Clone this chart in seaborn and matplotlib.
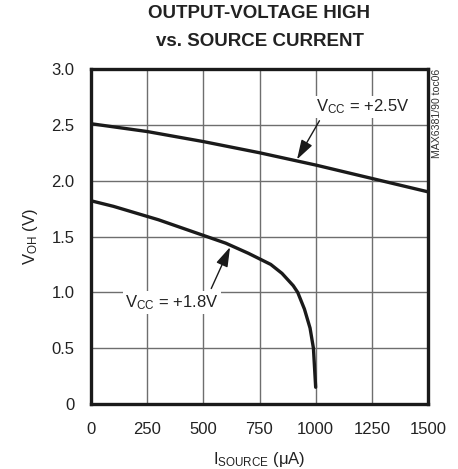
import matplotlib
matplotlib.use("Agg")
import matplotlib.pyplot as plt
import seaborn as sns
import pandas as pd

# Data
x_25 = [0, 250, 500, 750, 1000, 1250, 1500]
y_25 = [2.51, 2.44, 2.35, 2.25, 2.14, 2.02, 1.90]

x_18 = [0, 100, 200, 300, 400, 500, 600, 700, 800, 850, 900, 920, 950, 975, 990, 1000]
y_18 = [1.82, 1.77, 1.71, 1.65, 1.58, 1.51, 1.44, 1.35, 1.25, 1.17, 1.06, 1.00, 0.85, 0.68, 0.50, 0.15]

x_ticks = [0, 250, 500, 750, 1000, 1250, 1500]
y_ticks = [0, 0.5, 1.0, 1.5, 2.0, 2.5, 3.0]
y_tick_labels = ["0", "0.5", "1.0", "1.5", "2.0", "2.5", "3.0"]

sns.set_theme(style="white")
plt.rcParams['font.family'] = ['Liberation Sans', 'DejaVu Sans']
plt.rcParams['mathtext.default'] = 'regular'

df = pd.concat([
    pd.DataFrame({"I": x_25, "V": y_25, "s": "2.5"}),
    pd.DataFrame({"I": x_18, "V": y_18, "s": "1.8"}),
])

fig = plt.figure(figsize=(4.58, 4.69), dpi=100)
ax = fig.add_axes([91/458, 1-404/469, (428-91)/458, (404-69)/469])

sns.lineplot(data=df, x="I", y="V", units="s", estimator=None, sort=False,
             color="#1a1a1a", linewidth=2.4, ax=ax, legend=False)

ax.set_xlim(0, 1500)
ax.set_ylim(0, 3.0)
ax.set_xticks(x_ticks)
ax.set_xticklabels([str(v) for v in x_ticks])
ax.set_yticks(y_ticks)
ax.set_yticklabels(y_tick_labels)
ax.grid(True, color="#6e6e6e", linewidth=1.0)
ax.set_axisbelow(True)
for sp in ax.spines.values():
    sp.set_color("#1a1a1a")
    sp.set_linewidth(2.4)
ax.tick_params(axis="x", length=0, pad=13, labelsize=12, colors="#222222")
ax.tick_params(axis="y", length=0, pad=12, labelsize=12, colors="#222222")

ax.set_xlabel(r"I$_{SOURCE}$ ($\mu$A)", fontsize=12, color="#222222", labelpad=9)
ax.set_ylabel(r"V$_{OH}$ (V)", fontsize=12, color="#222222", labelpad=8)

fig.text(259.5/458, 1-14/469, "OUTPUT-VOLTAGE HIGH",
         ha="center", va="center", fontsize=13.5, fontweight="bold",
         color="#222222")
fig.text(259.5/458, 1-41/469, "vs. SOURCE CURRENT",
         ha="center", va="center", fontsize=13.5, fontweight="bold",
         color="#222222")

fig.text(437/458, 1-69/469, "MAX6381/90 toc06", rotation=90, ha="center",
         va="top", fontsize=7.6, color="#333333")

bbox = dict(facecolor="white", edgecolor="none", pad=1.5)
astyle = "-|>,head_length=0.8,head_width=0.25"
ax.annotate(r"V$_{CC}$ = +2.5V", xy=(917, 2.19), xytext=(1211, 2.66),
            ha="center", va="center", fontsize=12, color="#222222", bbox=bbox,
            arrowprops=dict(arrowstyle=astyle, color="#1a1a1a", lw=1.0,
                            mutation_scale=15, shrinkA=2, shrinkB=0,
                            relpos=(0.06, 0.0)))
ax.annotate(r"V$_{CC}$ = +1.8V", xy=(619, 1.405), xytext=(360, 0.91),
            ha="center", va="center", fontsize=12, color="#222222", bbox=bbox,
            arrowprops=dict(arrowstyle=astyle, color="#1a1a1a", lw=1.0,
                            mutation_scale=15, shrinkA=2, shrinkB=0,
                            relpos=(0.9, 1.0)))

fig.savefig("out.png", dpi=100)
